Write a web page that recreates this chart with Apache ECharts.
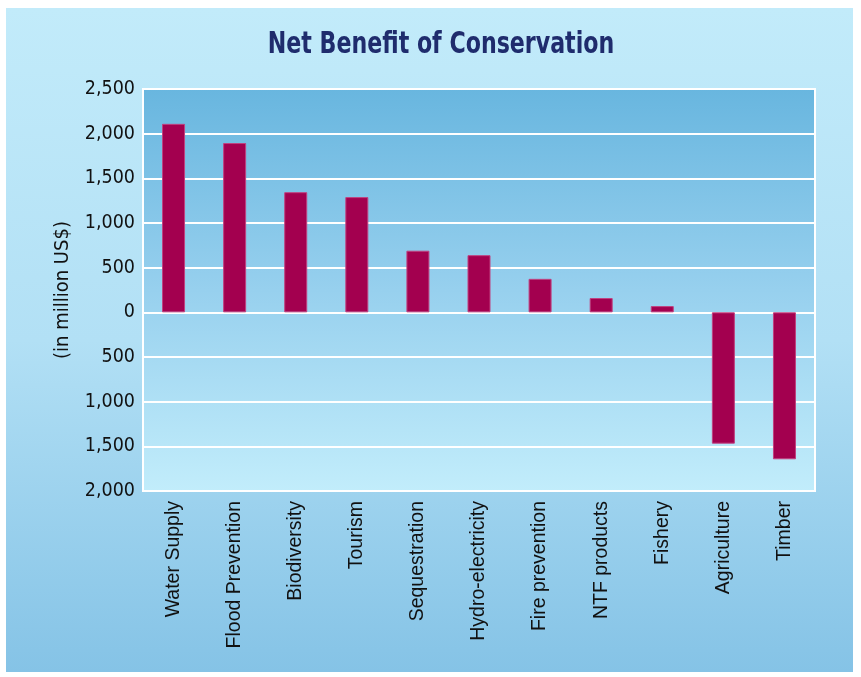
<!DOCTYPE html>
<html><head><meta charset="utf-8">
<script src="https://cdn.jsdelivr.net/npm/echarts@6/dist/echarts.min.js"></script>
<style>
html,body{margin:0;padding:0;background:#fff;}
#wrap{position:relative;width:861px;height:677px;background:#fff;}
#bg{position:absolute;left:6px;top:8px;width:847px;height:664px;background:linear-gradient(to bottom,#c2ebfa 0%,#b2e0f5 50%,#85c3e6 100%);}
#c{position:absolute;left:0;top:0;width:861px;height:677px;}
</style></head>
<body><div id="wrap"><div id="bg"></div><div id="c"></div></div>
<script>
const titleText = 'Net Benefit of Conservation';
const categories = ["Water Supply","Flood Prevention","Biodiversity","Tourism","Sequestration","Hydro-electricity","Fire prevention","NTF products","Fishery","Agriculture","Timber"];
const values = [2110, 1895, 1345, 1290, 690, 640, 375, 160, 70, -1470, -1645];
const yMin = -2000, yMax = 2500, yStep = 500;

const chart = echarts.init(document.getElementById('c'), null, {renderer:'canvas'});
const cond = '"DejaVu Sans Condensed", "Liberation Sans Narrow", sans-serif';
chart.setOption({
  backgroundColor: 'transparent',
  animation: false,
  graphic: [{
    type: 'text', x: 441, y: 45, scaleX: 0.82,
    style: {
      text: titleText, textAlign: 'center', textVerticalAlign: 'middle',
      fontFamily: cond, fontWeight: 'bold', fontSize: 30, fill: '#1f2c6d'
    }
  }],
  grid: {
    left: 143, top: 89, right: 46, bottom: 186,
    show: true, borderColor: '#ffffff', borderWidth: 2,
    backgroundColor: new echarts.graphic.LinearGradient(0,0,0,1,[
      {offset:0,color:'#68b6df'},{offset:0.5,color:'#97d0ee'},{offset:1,color:'#c2edfb'}
    ])
  },
  xAxis: {
    type: 'category', data: categories,
    axisLine: {show: false}, axisTick: {show: false},
    axisLabel: {rotate: 90, fontFamily: '"Liberation Sans", Arial, sans-serif', fontSize: 19.5, color: '#111', margin: 10, interval: 0}
  },
  yAxis: {
    type: 'value', min: yMin, max: yMax, interval: yStep,
    name: '(in million US$)', nameLocation: 'middle', nameGap: 70, nameRotate: 90,
    nameTextStyle: {fontFamily: cond, fontSize: 20, color: '#111'},
    axisLine: {show: false}, axisTick: {show: false},
    axisLabel: {
      fontFamily: cond, fontSize: 19.5, color: '#111', margin: 8,
      formatter: v => Math.abs(v).toLocaleString('en-US')
    },
    splitLine: {show: true, lineStyle: {color: '#ffffff', width: 2}}
  },
  series: [{
    type: 'bar', data: values, barWidth: 23,
    itemStyle: {color: '#a3004f', borderColor: '#c0407f', borderWidth: 1}
  }]
});
</script></body></html>
